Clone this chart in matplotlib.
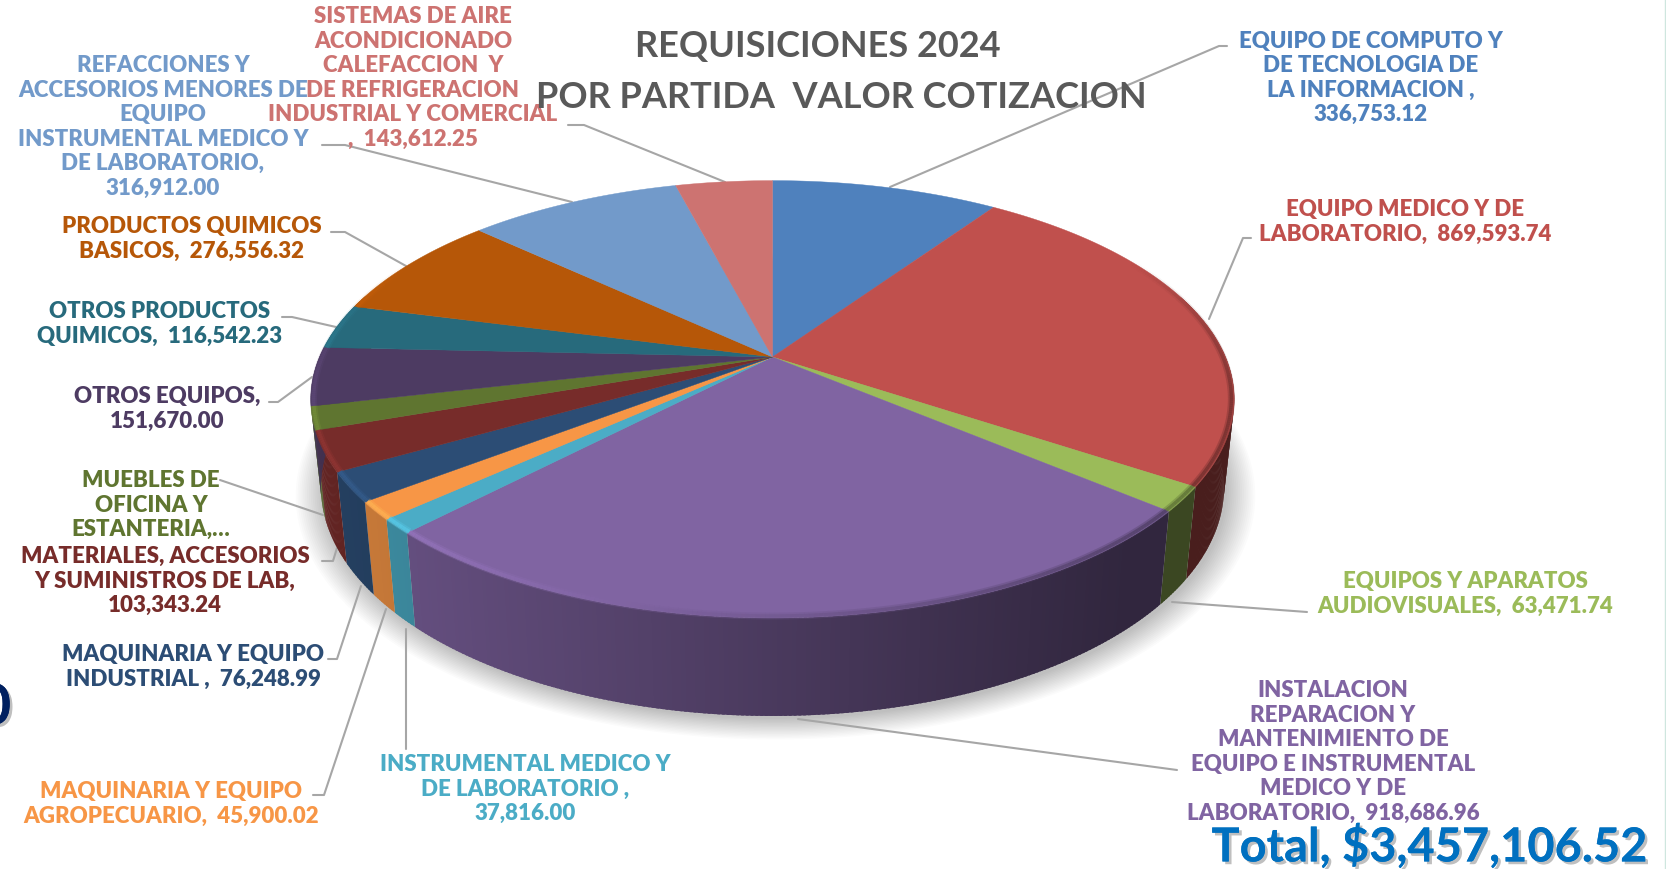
import numpy as np
import matplotlib
matplotlib.use('Agg')
import matplotlib.pyplot as plt
import matplotlib.patheffects as pe
from matplotlib.collections import LineCollection, PolyCollection

# values, muebles is cut off in the chart so it is estimated
values = [336753.12, 869593.74, 63471.74, 918686.96, 37816.00, 45900.02, 76248.99,
          103343.24, 60000.00, 151670.00, 116542.23, 276556.32, 316912.00, 143612.25]
colors = ['#4F81BD', '#C0504D', '#9BBB59', '#8064A2', '#4BACC6', '#F79646', '#2C4D75',
          '#772C2A', '#5F7530', '#4D3B62', '#276A7C', '#B65708', '#729ACA', '#CD7371']
labels = [
    'EQUIPO DE COMPUTO Y\nDE TECNOLOGIA DE\nLA INFORMACION ,\n336,753.12',
    'EQUIPO MEDICO Y DE\nLABORATORIO,  869,593.74',
    'EQUIPOS Y APARATOS\nAUDIOVISUALES,  63,471.74',
    'INSTALACION\nREPARACION Y\nMANTENIMIENTO DE\nEQUIPO E INSTRUMENTAL\nMEDICO Y DE\nLABORATORIO,  918,686.96',
    'INSTRUMENTAL MEDICO Y\nDE LABORATORIO ,\n37,816.00',
    'MAQUINARIA Y EQUIPO\nAGROPECUARIO,  45,900.02',
    'MAQUINARIA Y EQUIPO\nINDUSTRIAL ,  76,248.99',
    'MATERIALES, ACCESORIOS\nY SUMINISTROS DE LAB,\n103,343.24',
    'MUEBLES DE\nOFICINA Y\nESTANTERIA,…',
    'OTROS EQUIPOS,\n151,670.00',
    'OTROS PRODUCTOS\nQUIMICOS,  116,542.23',
    'PRODUCTOS QUIMICOS\nBASICOS,  276,556.32',
    'REFACCIONES Y\nACCESORIOS MENORES DE\nEQUIPO\nINSTRUMENTAL MEDICO Y\nDE LABORATORIO,\n316,912.00',
    'SISTEMAS DE AIRE\nACONDICIONADO\nCALEFACCION  Y\nDE REFRIGERACION\nINDUSTRIAL Y COMERCIAL\n,  143,612.25',
]
title_lines = ['REQUISICIONES 2024', 'POR PARTIDA  VALOR COTIZACION']
total_label = 'Total, $3,457,106.52'

# layout, in pixels of the 1666x869 picture
label_pos = [(1371, 78), (1405, 222), (1465, 594), (1333, 752), (525, 789), (171, 804), (193, 667),
             (165, 581), (151, 505), (167, 409), (160, 324), (192, 239), (163, 127), (413, 78)]
leaders = [
    [(890, 187), (1219, 46), (1227, 46)],
    [(1209, 319), (1243, 238), (1251, 238)],
    [(1172, 602), (1307, 612)],
    [(798, 719), (1177, 770)],
    [(406, 629), (406, 749)],
    [(386, 609), (324, 795), (313, 795)],
    [(361, 586), (337, 659), (328, 659)],
    [(337, 548), (333, 561), (322, 561)],
    [(323, 515), (220, 480)],
    [(312, 377), (278, 402), (269, 402)],
    [(336, 327), (292, 317), (282, 317)],
    [(406, 266), (345, 232), (331, 232)],
    [(572, 202), (345, 145), (322, 145)],
    [(725, 182), (584, 125), (568, 125)],
]

CX, CY = 772.5, 357
R, A, K = 453, 210.5, 0.1934
BOTTOM_SX, BOTTOM_SY, BOTTOM_DY = 0.978, 1.046, 86


def project(theta, r=1.0, bottom=False):
    # pie seen in perspective, theta clockwise from the top
    x = r * np.sin(theta)
    y = r * np.cos(theta)
    s = 1 / (1 + K * y)
    if bottom:
        return CX + R * x * s * BOTTOM_SX, CY - A * y * s * BOTTOM_SY + BOTTOM_DY
    return CX + R * x * s, CY - A * y * s


def shade(color, f):
    rgb = np.array(matplotlib.colors.to_rgb(color)) * f
    return tuple(np.clip(rgb, 0, 1))


fig = plt.figure(figsize=(16.66, 8.69), dpi=100)
ax = fig.add_axes([0, 0, 1, 1])
ax.set_xlim(0, 1666)
ax.set_ylim(869, 0)
ax.axis('off')
plt.rcParams['font.family'] = ['Lato', 'DejaVu Sans']

edges = np.concatenate([[0], np.cumsum(values)]) / np.sum(values) * 2 * np.pi

# soft shadow below the pie
t = np.linspace(0, 2 * np.pi, 240)
for i in range(16):
    sx, sy = project(t, r=1 + 0.004 * i, bottom=True)
    ax.fill(sx + 3, sy + 3, color='black', alpha=0.014, lw=0, zorder=1)

# leader lines go under the pie
for pts in leaders:
    xs, ys = zip(*pts)
    ax.plot(xs, ys, color='#A6A6A6', lw=1.5, zorder=2, solid_capstyle='round')

# side wall, split in thin strips to get the light going from left to right
# strips overlap a bit so no seams show between them
polys, fcs = [], []
for i, col in enumerate(colors):
    n = max(2, int(np.degrees(edges[i + 1] - edges[i]) * 2))
    th = np.linspace(edges[i], edges[i + 1], n + 1)
    step = th[1] - th[0]
    for a in th[:-1]:
        if np.cos(a + step / 2) > 0.3:
            continue
        b = min(a + step * 1.6, edges[i + 1])
        xa, ya = project(a)
        xb, yb = project(b)
        xc, yc = project(b, bottom=True)
        xd, yd = project(a, bottom=True)
        polys.append([(xa, ya), (xb, yb), (xc, yc), (xd, yd)])
        f = np.clip(0.78 - (xa - 407) * 0.00055, 0.38, 0.9)
        fcs.append(shade(col, f))
ax.add_collection(PolyCollection(polys, facecolors=fcs, edgecolors='none', zorder=3))

# top of the pie
for i, col in enumerate(colors):
    th = np.linspace(edges[i], edges[i + 1], max(3, int(np.degrees(edges[i + 1] - edges[i]) * 2)))
    x, y = project(th)
    ax.fill(np.r_[CX, x], np.r_[CY, y], color=col, lw=0.3, zorder=4)

# bevel on the rim, light on the left and dark on the right, fading out towards the back
for width, alpha in [(5, 0.3), (2.5, 0.55)]:
    segs, cols = [], []
    for i, col in enumerate(colors):
        th = np.linspace(edges[i], edges[i + 1], max(3, int(np.degrees(edges[i + 1] - edges[i]) * 2)))
        x, y = project(th, r=0.994)
        for j in range(len(th) - 1):
            fade = np.clip((0.5 - np.cos(th[j])) / 0.7, 0, 1)
            if fade == 0:
                continue
            segs.append([(x[j], y[j]), (x[j + 1], y[j + 1])])
            f = np.clip(1.25 - (x[j] - 340) / 860 * 0.75, 0.5, 1.25)
            cols.append(shade(col, f) + (alpha * fade,))
    ax.add_collection(LineCollection(segs, colors=cols, linewidths=width, zorder=5, capstyle='butt'))

# data labels
for text, pos, col in zip(labels, label_pos, colors):
    ax.text(pos[0], pos[1], text, color=col, fontsize=16, fontweight='heavy', ha='center',
            va='center', linespacing=1.21, zorder=6)

ax.text(818, 47, title_lines[0], color='#595959', fontsize=26, fontweight='bold', ha='center', va='center', zorder=7)
ax.text(841, 98, title_lines[1], color='#595959', fontsize=26, fontweight='bold', ha='center', va='center', zorder=7)

shadow = [pe.withSimplePatchShadow(offset=(2, -2), shadow_rgbFace='black', alpha=0.25), pe.Normal()]
ax.text(1648, 846, total_label, color='#0070C0', fontsize=33.8, fontweight='bold', ha='right', va='center',
        path_effects=shadow, zorder=7)
# piece of a number that the crop of the slide leaves at the left edge
ax.text(11, 708, '0', color='#002060', fontsize=40, fontweight='bold', ha='right', va='center',
        path_effects=shadow, zorder=7)
ax.plot([1665.5, 1665.5], [0, 869], color='#CFE6DF', lw=1, zorder=7)

fig.savefig('out.png', dpi=100)
